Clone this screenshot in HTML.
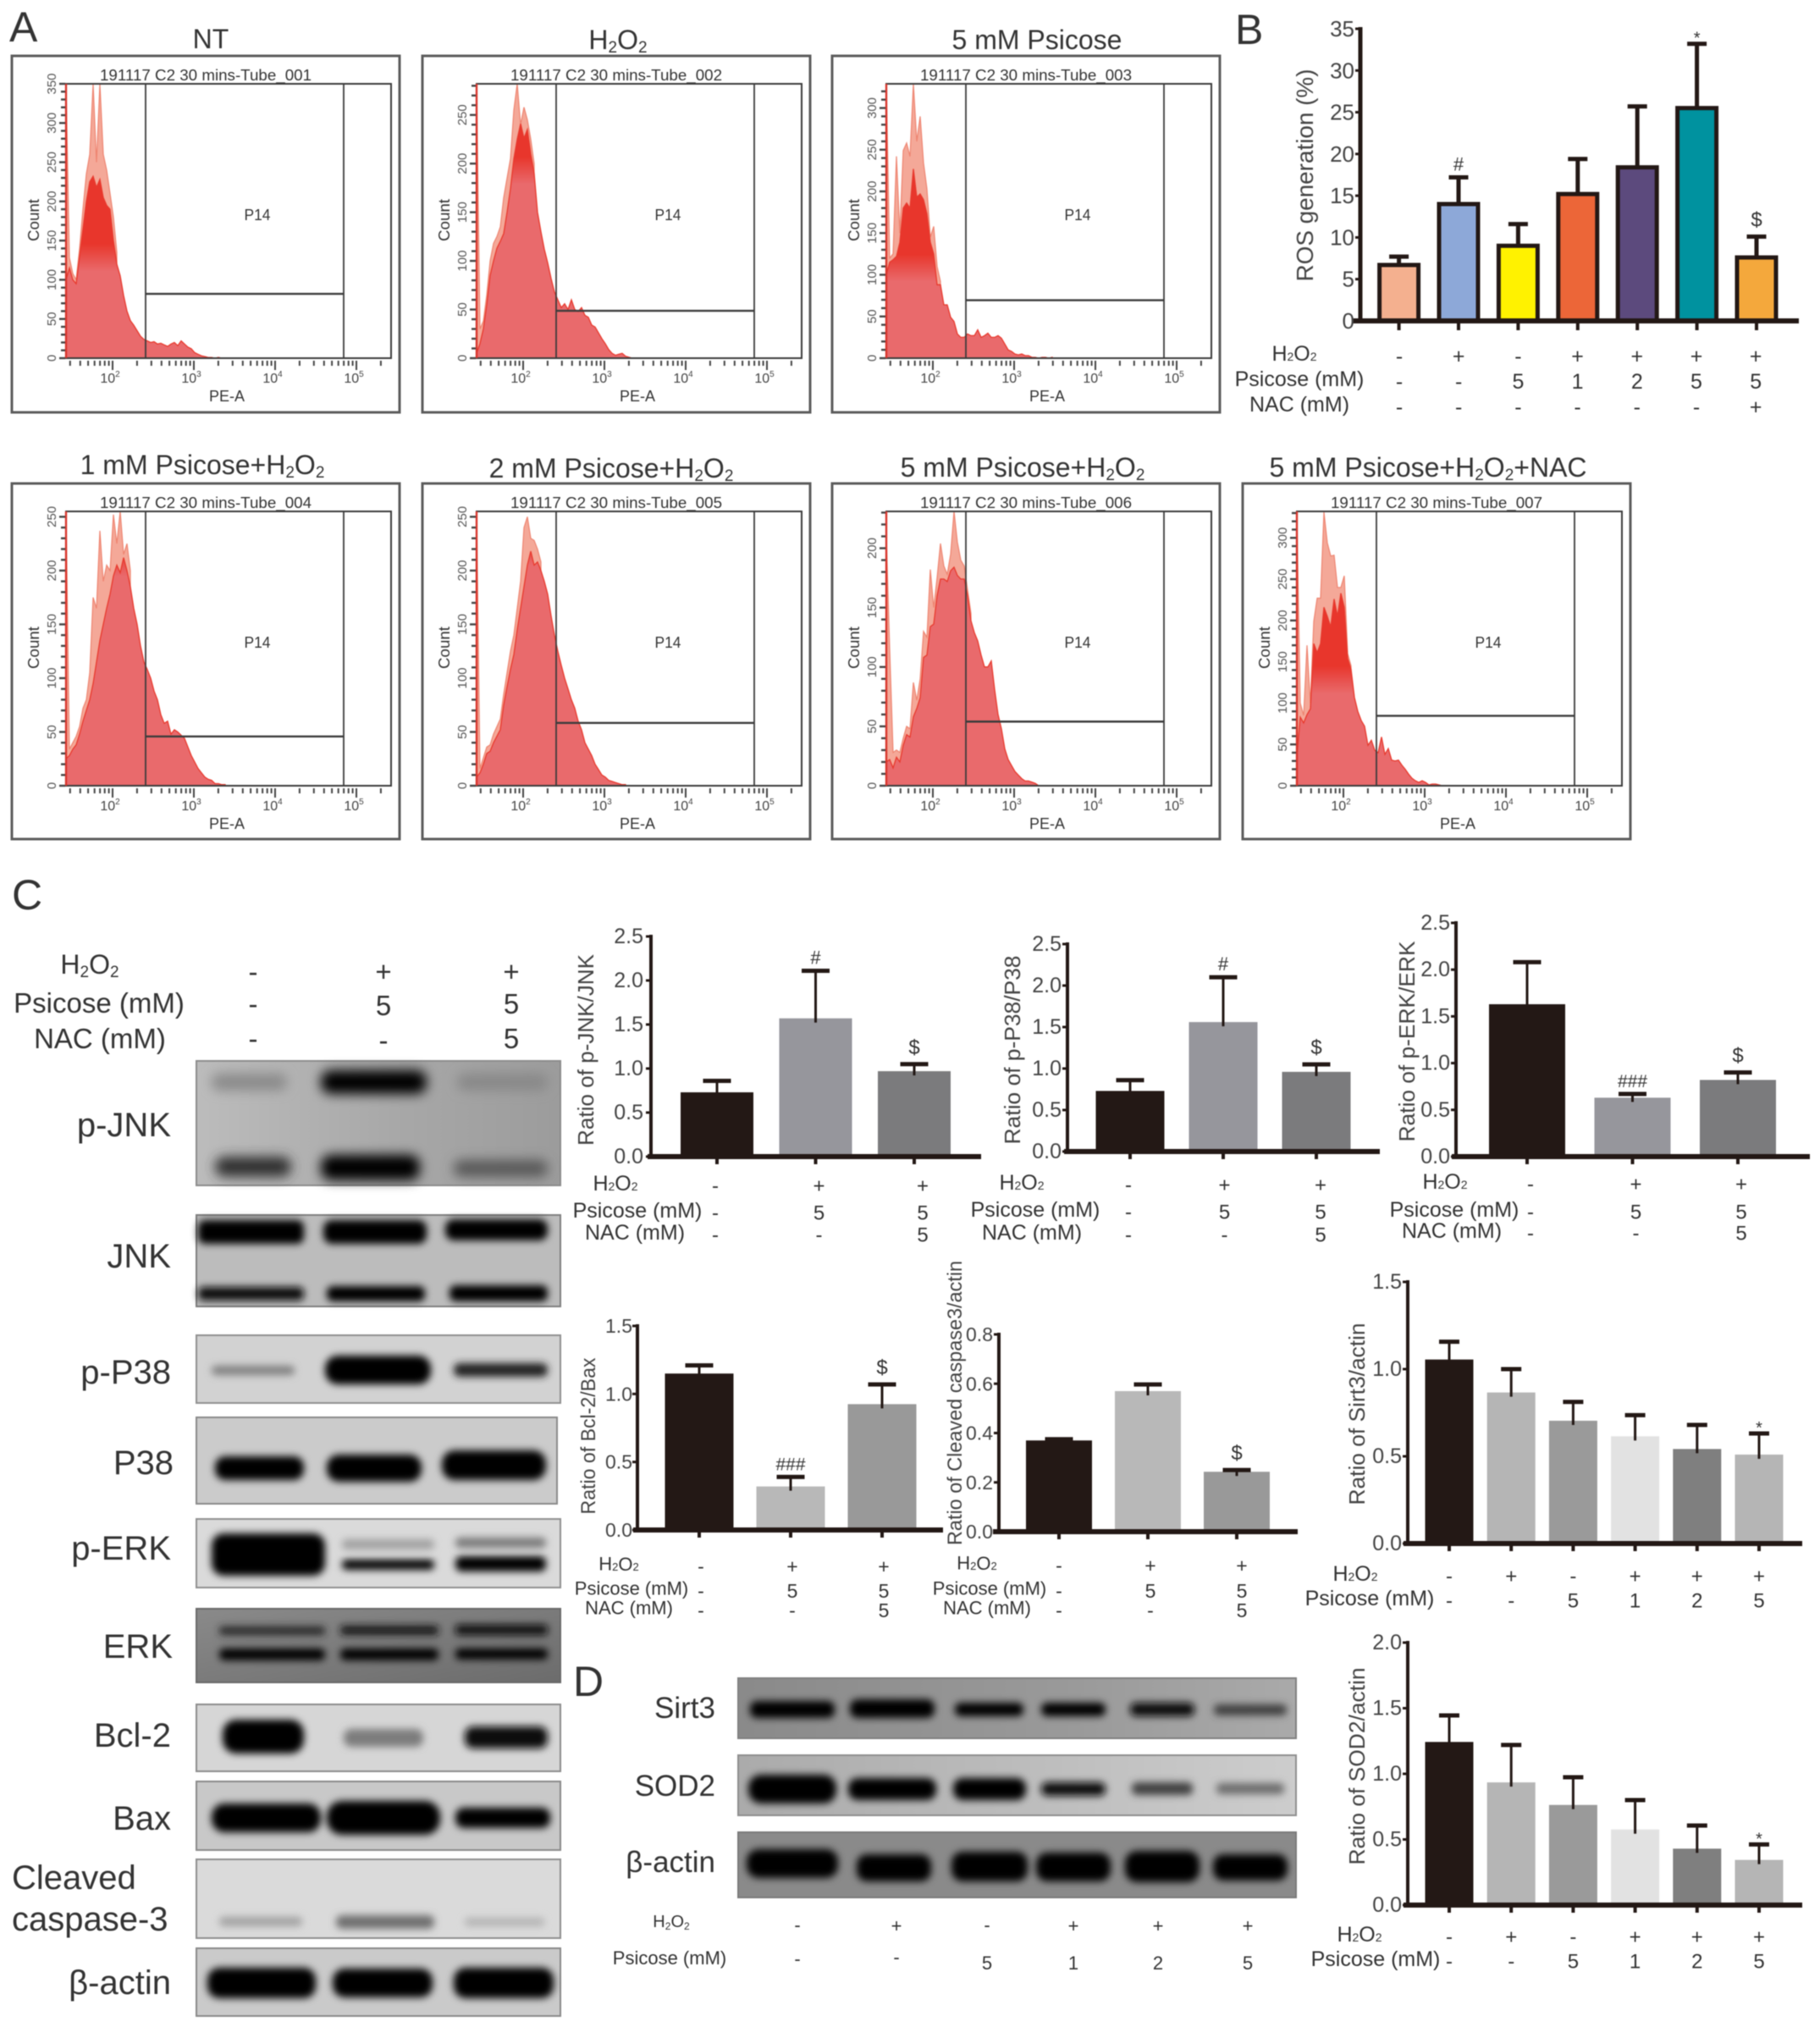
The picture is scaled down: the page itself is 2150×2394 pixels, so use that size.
<!DOCTYPE html>
<html lang="en">
<head>
<meta charset="utf-8">
<title>Psicose ROS flow cytometry and western blot figure</title>
<style>
html,body{margin:0;padding:0;background:#fff}
svg{display:block;filter:blur(0.6px)}
text{font-family:"Liberation Sans",sans-serif;fill:#333}
</style>
</head>
<body>
<svg id="figure" xmlns="http://www.w3.org/2000/svg" width="2150" height="2394" viewBox="0 0 2150 2394">
<defs id="defs">
<filter id="bandBlur" filterUnits="userSpaceOnUse" x="0" y="0" width="2150" height="2394"><feGaussianBlur stdDeviation="4.5"/></filter>
<filter id="softBlur" filterUnits="userSpaceOnUse" x="0" y="0" width="2150" height="2394"><feGaussianBlur stdDeviation="7"/></filter>
<linearGradient id="pJnkBg" x1="0" y1="0" x2="1" y2="0"><stop offset="0" stop-color="#bcbcbc"/><stop offset="0.55" stop-color="#a8a8a8"/><stop offset="1" stop-color="#9c9c9c"/></linearGradient>
<linearGradient id="erkBg" x1="0" y1="0" x2="1" y2="1"><stop offset="0" stop-color="#8a8a8a"/><stop offset="0.6" stop-color="#787878"/><stop offset="1" stop-color="#6c6c6c"/></linearGradient>
<linearGradient id="sirtBg" x1="0" y1="0" x2="1" y2="0"><stop offset="0" stop-color="#8a8a8a"/><stop offset="0.6" stop-color="#9a9a9a"/><stop offset="1" stop-color="#aaa"/></linearGradient>
<linearGradient id="sodBg" x1="0" y1="0" x2="1" y2="0"><stop offset="0" stop-color="#ababab"/><stop offset="1" stop-color="#cdcdcd"/></linearGradient>
</defs>
<rect x="0" y="0" width="2150" height="2394" fill="#fff"/>

<text x="11" y="49" font-size="50">A</text>
<text x="1459" y="52" font-size="50">B</text>
<text x="14" y="1074" font-size="50">C</text>
<text x="677" y="2003" font-size="50">D</text>

<!-- Panel C treatment header -->
<text x="106" y="1150" font-size="32" text-anchor="middle">H<tspan font-size="19" dy="4">2</tspan><tspan dy="-4">O</tspan><tspan font-size="19" dy="4">2</tspan></text>
<text x="117" y="1196" font-size="33" text-anchor="middle">Psicose (mM)</text>
<text x="118" y="1238" font-size="33" text-anchor="middle">NAC (mM)</text>
<g font-size="33" text-anchor="middle">
<text x="299" y="1159">-</text><text x="453" y="1159">+</text><text x="604" y="1159">+</text>
<text x="299" y="1197">-</text><text x="453" y="1199">5</text><text x="604" y="1197">5</text>
<text x="299" y="1238">-</text><text x="453" y="1240">-</text><text x="604" y="1238">5</text>
</g>

<!-- Panel C blot labels -->
<g font-size="40" text-anchor="end">
<text x="202" y="1342">p-JNK</text>
<text x="202" y="1497">JNK</text>
<text x="202" y="1634">p-P38</text>
<text x="205" y="1741">P38</text>
<text x="202" y="1842">p-ERK</text>
<text x="204" y="1958">ERK</text>
<text x="202" y="2063">Bcl-2</text>
<text x="202" y="2161">Bax</text>
<text x="202" y="2355">β-actin</text>
</g>
<text x="14" y="2231" font-size="40">Cleaved</text>
<text x="14" y="2280" font-size="40">caspase-3</text>

<!-- Panel C blots -->
<g>
<rect x="232" y="1253" width="430" height="147" fill="url(#pJnkBg)" stroke="#8c8c8c" stroke-width="2"/>
<g filter="url(#softBlur)">
<rect x="250" y="1268" width="89" height="20" rx="9" fill="#8a8a8a"/>
<rect x="379" y="1264" width="125" height="28" rx="12" fill="#000"/>
<rect x="540" y="1268" width="107" height="20" rx="9" fill="#888"/>
<rect x="254" y="1366" width="90" height="24" rx="11" fill="#333"/>
<rect x="379" y="1364" width="117" height="30" rx="12" fill="#000"/>
<rect x="536" y="1370" width="111" height="20" rx="9" fill="#585858"/>
</g></g>
<g>
<rect x="232" y="1435" width="430" height="108" fill="#bcbcbc" stroke="#808080" stroke-width="2"/>
<g filter="url(#bandBlur)">
<rect x="234" y="1441" width="125" height="28" rx="8" fill="#000"/>
<rect x="382" y="1441" width="122" height="28" rx="10" fill="#000"/>
<rect x="526" y="1440" width="121" height="25" rx="10" fill="#000"/>
<rect x="234" y="1520" width="125" height="16" rx="6" fill="#111"/>
<rect x="386" y="1519" width="116" height="18" rx="7" fill="#050505"/>
<rect x="531" y="1518" width="116" height="19" rx="7" fill="#000"/>
</g></g>
<g>
<rect x="232" y="1577" width="430" height="80" fill="#d2d2d2" stroke="#909090" stroke-width="2"/>
<g filter="url(#bandBlur)">
<rect x="250" y="1613" width="98" height="11" rx="5" fill="#808080"/>
<rect x="384" y="1601" width="125" height="34" rx="15" fill="#000"/>
<rect x="536" y="1610" width="111" height="16" rx="7" fill="#222"/>
</g></g>
<g>
<rect x="232" y="1674" width="426" height="102" fill="#cbcbcb" stroke="#8a8a8a" stroke-width="2"/>
<g filter="url(#bandBlur)">
<rect x="254" y="1720" width="105" height="28" rx="12" fill="#000"/>
<rect x="386" y="1718" width="112" height="32" rx="14" fill="#000"/>
<rect x="522" y="1713" width="123" height="35" rx="15" fill="#000"/>
</g></g>
<g>
<rect x="232" y="1794" width="430" height="81" fill="#dadada" stroke="#909090" stroke-width="2"/>
<g filter="url(#bandBlur)">
<rect x="250" y="1811" width="134" height="50" rx="14" fill="#000"/>
<rect x="404" y="1818" width="109" height="12" rx="5" fill="#a0a0a0"/>
<rect x="404" y="1842" width="109" height="12" rx="5" fill="#000"/>
<rect x="538" y="1816" width="107" height="12" rx="5" fill="#787878"/>
<rect x="538" y="1838" width="107" height="18" rx="7" fill="#000"/>
</g></g>
<g>
<rect x="232" y="1900" width="430" height="87" fill="url(#erkBg)" stroke="#6a6a6a" stroke-width="2"/>
<g filter="url(#bandBlur)">
<rect x="259" y="1921" width="125" height="10" rx="4" fill="#262626"/>
<rect x="402" y="1920" width="116" height="11" rx="4" fill="#141414"/>
<rect x="538" y="1919" width="109" height="12" rx="4" fill="#0c0c0c"/>
<rect x="259" y="1947" width="125" height="14" rx="6" fill="#050505"/>
<rect x="402" y="1947" width="116" height="14" rx="6" fill="#000"/>
<rect x="538" y="1947" width="109" height="13" rx="5" fill="#000"/>
</g></g>
<g>
<rect x="232" y="2013" width="430" height="79" fill="#d6d6d6" stroke="#8c8c8c" stroke-width="2"/>
<g filter="url(#bandBlur)">
<rect x="263" y="2031" width="96" height="40" rx="16" fill="#000"/>
<rect x="406" y="2042" width="94" height="21" rx="9" fill="#7c7c7c"/>
<rect x="549" y="2039" width="98" height="26" rx="10" fill="#0a0a0a"/>
</g></g>
<g>
<rect x="232" y="2104" width="430" height="81" fill="#c8c8c8" stroke="#8a8a8a" stroke-width="2"/>
<g filter="url(#bandBlur)">
<rect x="250" y="2130" width="129" height="34" rx="15" fill="#000"/>
<rect x="386" y="2127" width="134" height="40" rx="18" fill="#000"/>
<rect x="538" y="2135" width="112" height="24" rx="10" fill="#000"/>
</g></g>
<g>
<rect x="232" y="2196" width="430" height="93" fill="#dadada" stroke="#8e8e8e" stroke-width="2"/>
<g filter="url(#bandBlur)">
<rect x="259" y="2264" width="98" height="11" rx="5" fill="#a2a2a2"/>
<rect x="397" y="2262" width="116" height="16" rx="7" fill="#707070"/>
<rect x="549" y="2265" width="94" height="10" rx="4" fill="#b4b4b4"/>
</g></g>
<g>
<rect x="232" y="2301" width="430" height="80" fill="#cacaca" stroke="#8a8a8a" stroke-width="2"/>
<g filter="url(#bandBlur)">
<rect x="245" y="2324" width="128" height="36" rx="14" fill="#000"/>
<rect x="393" y="2325" width="118" height="34" rx="14" fill="#000"/>
<rect x="536" y="2324" width="118" height="36" rx="14" fill="#000"/>
</g></g>

<!-- Panel D blots -->
<g font-size="35" text-anchor="end">
<text x="845" y="2029">Sirt3</text>
<text x="845" y="2121">SOD2</text>
<text x="845" y="2211">β-actin</text>
</g>
<g>
<rect x="872" y="1982" width="659" height="71" fill="url(#sirtBg)" stroke="#808080" stroke-width="2"/>
<g filter="url(#bandBlur)">
<rect x="886" y="2009" width="100" height="20" rx="8" fill="#000"/>
<rect x="1004" y="2007" width="100" height="22" rx="9" fill="#000"/>
<rect x="1128" y="2011" width="81" height="16" rx="7" fill="#050505"/>
<rect x="1230" y="2011" width="76" height="16" rx="7" fill="#050505"/>
<rect x="1335" y="2011" width="76" height="16" rx="7" fill="#080808"/>
<rect x="1434" y="2013" width="86" height="13" rx="5" fill="#404040"/>
</g></g>
<g>
<rect x="872" y="2073" width="659" height="71" fill="url(#sodBg)" stroke="#8e8e8e" stroke-width="2"/>
<g filter="url(#bandBlur)">
<rect x="884" y="2096" width="104" height="34" rx="15" fill="#000"/>
<rect x="1002" y="2100" width="104" height="26" rx="11" fill="#000"/>
<rect x="1126" y="2100" width="86" height="26" rx="11" fill="#000"/>
<rect x="1230" y="2105" width="76" height="16" rx="7" fill="#0a0a0a"/>
<rect x="1337" y="2105" width="72" height="15" rx="6" fill="#404040"/>
<rect x="1437" y="2106" width="80" height="13" rx="5" fill="#6c6c6c"/>
</g></g>
<g>
<rect x="872" y="2164" width="659" height="77" fill="#8a8a8a" stroke="#7a7a7a" stroke-width="2"/>
<g filter="url(#bandBlur)">
<rect x="882" y="2184" width="108" height="34" rx="14" fill="#000"/>
<rect x="1012" y="2190" width="88" height="32" rx="12" fill="#000"/>
<rect x="1124" y="2187" width="90" height="35" rx="13" fill="#000"/>
<rect x="1224" y="2188" width="88" height="34" rx="13" fill="#000"/>
<rect x="1329" y="2186" width="88" height="37" rx="14" fill="#000"/>
<rect x="1433" y="2190" width="88" height="31" rx="12" fill="#000"/>
</g></g>
<g text-anchor="middle">
<text x="793" y="2276" font-size="20">H<tspan font-size="12" dy="3">2</tspan><tspan dy="-3">O</tspan><tspan font-size="12" dy="3">2</tspan></text>
<text x="791" y="2320" font-size="22">Psicose (mM)</text>
<g font-size="22">
<text x="942" y="2281">-</text><text x="1059" y="2282">+</text><text x="1166" y="2281">-</text><text x="1268" y="2282">+</text><text x="1368" y="2282">+</text><text x="1474" y="2282">+</text>
<text x="942" y="2321">-</text><text x="1059" y="2319">-</text><text x="1166" y="2326">5</text><text x="1268" y="2326">1</text><text x="1368" y="2326">2</text><text x="1474" y="2326">5</text>
</g></g>

<g id="flowLayer"></g>
<g id="chartLayer"></g>
</svg>

<script>
// ---------- Flow cytometry histogram data (counts per bin) ----------
const ntCounts=[100,115,100,95,130,165,200,225,232,218,228,205,195,190,150,120,105,80,60,48,42,35,28,24,22,20,21,18,19,17,15,18,20,16,22,18,14,12,7,5,3,2,1,1,0,1,0];
const ntSpikes=[350,128,108,100,140,190,235,260,350,250,350,260,240,210,180,135];
const h2o2Counts=[5,15,30,55,85,100,113,120,128,150,174,205,225,241,226,235,210,190,150,130,112,98,82,68,60,52,56,50,60,50,48,52,44,42,34,32,26,20,15,9,5,3,4,5,2,1,0];
const h2o2Spikes=[282,30,38,65,100,118,125,135,165,185,205,255,282,240,258,245,225,200];
const psicoseCounts=[100,115,118,122,139,180,186,180,227,193,197,190,173,139,125,88,88,64,64,49,44,29,25,25,29,27,27,34,25,27,30,25,25,27,24,17,10,8,5,4,5,3,3,1,1,0,1,1,0,1];
const psicoseSpikes=[329,120,125,242,150,249,258,242,329,260,290,234,203,145,158,110,92];
const psicose1Counts=[25,28,34,38,48,60,70,80,95,115,135,150,165,178,195,205,198,212,200,185,165,150,130,115,108,100,88,80,66,58,60,48,52,50,47,44,36,28,22,16,12,8,6,5,2,2,1,1];
const psicose1Spikes=[255,34,40,46,55,72,80,105,175,165,237,190,205,200,252,225,255,215,225,200];
const psicose2Counts=[8,12,20,30,32,40,46,52,75,92,108,122,145,165,185,205,218,205,208,200,190,178,158,140,125,112,100,90,80,72,60,52,40,34,28,20,15,10,8,5,4,3,2,1,1];
const psicose2Spikes=[255,16,26,36,38,48,55,62,85,105,125,140,165,190,240,250,230,228,220,208];
const psicose5Counts=[20,22,15,24,20,34,43,41,58,65,74,108,110,134,136,160,174,174,172,181,184,177,174,174,160,139,129,122,110,100,100,105,81,60,48,31,22,17,12,9,6,4,4,3,2,0];
const psicose5Spikes=[210,115,28,30,28,40,50,48,87,72,90,130,125,182,150,175,204,185,178,195,231,205,190,185,165,145];
const nacCounts=[35,83,76,86,93,172,161,172,216,205,192,226,205,233,216,154,141,107,90,79,72,49,55,43,40,59,38,45,31,30,31,25,20,14,9,6,4,6,4,1,2,2,1,0];
const nacSpikes=[332,100,85,170,100,199,227,227,331,294,278,279,240,240,254,160,145];
const flowMajorTicks=[50];
const flowDecades=[2,3,4,5];

// ---------- Bar chart data ----------
const rosCategories=['NT','H2O2','5 mM Psicose','1 mM+H2O2','2 mM+H2O2','5 mM+H2O2','5 mM+H2O2+NAC'];
const rosValues=[6.7,14,9,15.2,18.4,25.5,7.6];
const rosErrorTops=[7.7,17.2,11.6,19.4,25.7,33.2,10.1];
const rosTicks=['0','5','10','15','20','25','30','35'];
const rosMarks=['','#','','','','*','$'];
const pJnkValues=[0.73,1.57,0.97];
const pJnkErrorTops=[0.86,2.11,1.05];
const pJnkMarks=['','#','$'];
const pP38Values=[0.73,1.56,0.96];
const pP38ErrorTops=[0.86,2.1,1.05];
const pP38Marks=['','#','$'];
const pErkValues=[1.63,0.63,0.82];
const pErkErrorTops=[2.08,0.67,0.9];
const pErkMarks=['','###','$'];
const ratioTicks=['0.0','0.5','1.0','1.5','2.0','2.5'];
const bclValues=[1.15,0.32,0.925];
const bclErrorTops=[1.21,0.39,1.07];
const bclMarks=['','###','$'];
const bclTicks=['0.0','0.5','1.0','1.5'];
const caspaseValues=[0.37,0.57,0.243];
const caspaseErrorTops=[0.375,0.597,0.25];
const caspaseMarks=['','','$'];
const caspaseTicks=['0.0','0.2','0.4','0.6','0.8'];
const sirt3Values=[1.055,0.866,0.704,0.615,0.542,0.51];
const sirt3ErrorTops=[1.157,1.0,0.812,0.736,0.68,0.631];
const sirt3Marks=['','','','','','*'];
const sirt3Ticks=['0.0','0.5','1.0','1.5'];
const sod2Values=[1.243,0.935,0.763,0.576,0.43,0.344];
const sod2ErrorTops=[1.445,1.22,0.974,0.8,0.606,0.462];
const sod2Marks=['','','','','','*'];
const sod2Ticks=['0.0','0.5','1.0','1.5','2.0'];

// ---------- Treatment rows ----------
const rosH2o2=['-','+','-','+','+','+','+'];
const rosPsicose=['-','-','5','1','2','5','5'];
const rosNac=['-','-','-','-','-','-','+'];
const threeH2o2=['-','+','+'];
const threePsicose=['-','5','5'];
const threeNac=['-','-','5'];
const sixH2o2=['-','+','-','+','+','+'];
const sixPsicose=['-','-','5','1','2','5'];

const NS='http://www.w3.org/2000/svg';
function mk(tag,attrs,parent){
  const el=document.createElementNS(NS,tag);
  for(const k in attrs){el.setAttribute(k,attrs[k]);}
  parent.appendChild(el);
  return el;
}
function label(parent,name,str,x,y,size,opts){
  opts=opts||{};
  const t=mk('text',{x:x,y:y,'font-size':size,'text-anchor':opts.anchor||'middle'},parent);
  
  
  if(opts.central){t.setAttribute('dominant-baseline','central');}
  if(opts.fill){t.setAttribute('style','fill:'+opts.fill);}
  if(opts.rotate){t.setAttribute('transform','rotate(-90 '+x+' '+y+')');}
  if(opts.len){t.setAttribute('textLength',opts.len);t.setAttribute('lengthAdjust','spacingAndGlyphs');}
  const sm=Math.round(size*0.58),dy=Math.round(size*0.13);
  const parts=str.split('H2O2');
  parts.forEach(function(p,i){
    if(p){
      if(i>0){
        const rest=mk('tspan',{dy:-dy},t);
        rest.textContent=p;
      }else{
        t.appendChild(document.createTextNode(p));
      }
    }
    if(i<parts.length-1){
      t.appendChild(document.createTextNode('H'));
      const a=mk('tspan',{'font-size':sm,dy:dy},t);a.textContent='2';
      const b=mk('tspan',{dy:-dy},t);b.textContent='O';
      const c=mk('tspan',{'font-size':sm,dy:dy},t);c.textContent='2';
    }
  });
  return t;
}

// ---------- Flow panels ----------
const flowPanels=[
 {name:'nt',title:'NT',titleX:249,titleY:57,tube:'191117 C2 30 mins-Tube_001',left:14,top:66,counts:ntCounts,spikes:ntSpikes,yMax:350,gate:82,dense:125},
 {name:'h2o2',title:'H2O2',titleX:730,titleY:58,tube:'191117 C2 30 mins-Tube_002',left:499,top:66,counts:h2o2Counts,spikes:h2o2Spikes,yMax:282,gate:48.7,dense:190},
 {name:'psicose-5',title:'5 mM Psicose',titleX:1225,titleY:58,tube:'191117 C2 30 mins-Tube_003',left:983,top:66,counts:psicoseCounts,spikes:psicoseSpikes,yMax:329,gate:69.5,dense:105},
 {name:'psicose-1-h2o2',title:'1 mM Psicose+H2O2',titleX:239,titleY:560,tube:'191117 C2 30 mins-Tube_004',left:14,top:571,counts:psicose1Counts,spikes:psicose1Spikes,yMax:255,gate:45.8,dense:205},
 {name:'psicose-2-h2o2',title:'2 mM Psicose+H2O2',titleX:722,titleY:564,tube:'191117 C2 30 mins-Tube_005',left:499,top:571,counts:psicose2Counts,spikes:psicose2Spikes,yMax:255,gate:58.4,dense:215},
 {name:'psicose-5-h2o2',title:'5 mM Psicose+H2O2',titleX:1208,titleY:563,tube:'191117 C2 30 mins-Tube_006',left:983,top:571,counts:psicose5Counts,spikes:psicose5Spikes,yMax:231,gate:54,dense:400},
 {name:'psicose-5-h2o2-nac',title:'5 mM Psicose+H2O2+NAC',titleX:1687,titleY:563,tube:'191117 C2 30 mins-Tube_007',left:1468,top:571,counts:nacCounts,spikes:nacSpikes,yMax:332,gate:84.6,dense:125}
];
const flowLayer=document.getElementById('flowLayer');
const defs=document.getElementById('defs');
flowPanels.forEach(function(p){
  const g=mk('g',{},flowLayer);
  
  
  const L=p.left+64,R=p.left+448,T=p.top+33,B=p.top+357,binW=4;
  const yScale=function(c){return B-(c/p.yMax)*(B-T);};
  const xBin=function(i){return L+i*binW;};
  const xLog=function(v){return p.left+119+96*(v-2);};

  label(g,'flow-title-'+p.name,p.title,p.titleX,p.titleY,32);
  const box=mk('rect',{x:p.left,y:p.top,width:458,height:p.top===66?421:420,fill:'none',stroke:'#5c5c5c','stroke-width':3},g);
  
  

  const area=function(arr){
    let d='M'+L+' '+B;
    arr.forEach(function(c,i){d+=' L'+xBin(i)+' '+yScale(c).toFixed(1);});
    d+=' L'+xBin(arr.length-1)+' '+B+' Z';
    return d;
  };
  const gid='bodyFill-'+p.name;
  const grad=mk('linearGradient',{id:gid,gradientUnits:'userSpaceOnUse',x1:0,y1:T,x2:0,y2:B},defs);
  const f=Math.max(0,(yScale(p.dense)-T)/(B-T));
  mk('stop',{offset:Math.max(0,f-0.06),'stop-color':f>0?'#e8362c':'#e96a6c'},grad);
  mk('stop',{offset:Math.min(1,f+0.04),'stop-color':'#e96a6c'},grad);

  const spike=mk('path',{d:area(p.spikes),fill:'#f4a898',stroke:'#ee8470','stroke-width':1.2},g);
  
  
  const body=mk('path',{d:area(p.counts),fill:'url(#'+gid+')',stroke:'#e8392d','stroke-width':1.3},g);
  
  

  const frame=mk('rect',{x:L,y:T,width:R-L,height:B-T,fill:'none',stroke:'#3c3c3c','stroke-width':2},g);
  
  
  const redEdge=mk('line',{x1:L,y1:T,x2:L,y2:B,stroke:'#d8352c','stroke-width':2.4},g);
  
  

  const gateX1=p.left+158,gateX2=p.left+392,gy=yScale(p.gate);
  [[gateX1,T,gateX1,B],[gateX2,T,gateX2,B],[gateX1,gy,gateX2,gy]].forEach(function(c,i){
    const ln=mk('line',{x1:c[0],y1:c[1],x2:c[2],y2:c[3],stroke:'#3c3c3c','stroke-width':i===2?2.4:1.8},g);
    
    
  });

  label(g,'tube-title',p.tube,p.left+229,T-4,18,{len:250});
  label(g,'gate-label',"P14",p.left+290,p.top+188,18,{central:true,len:31});
  label(g,'flow-x-title',"PE-A",p.left+254,p.top+408,18,{len:42});
  label(g,'flow-y-title',"Count",p.left+32,p.top+194,18,{rotate:true,len:50});

  for(let c=0;c<=p.yMax;c+=10){
    const major=c%flowMajorTicks[0]===0;
    const tk=mk('line',{x1:L-(major?8:6),y1:yScale(c),x2:L-1,y2:yScale(c),stroke:'#444','stroke-width':2.4},g);
    
    
    if(major){
      label(g,'flow-y-tick-label',String(c),p.left+52,yScale(c),15,{rotate:true,fill:'#555'});
    }
  }
  for(let d=1;d<=5;d++){
    for(let k=1;k<=9;k++){
      const v=d+Math.log10(k),x=xLog(v);
      if(x<L||x>R){continue;}
      const tk=mk('line',{x1:x,y1:B+3,x2:x,y2:B+(k===1?14:9),stroke:'#444','stroke-width':2},g);
      
      
    }
  }
  flowDecades.forEach(function(d){
    const t=label(g,'flow-x-tick-label','10',xLog(d)-3,p.top+386,16,{fill:'#444'});
    const s=mk('tspan',{'font-size':10,dy:-7},t);
    s.textContent=String(d);
  });
});

// ---------- Bar charts ----------
const darkFill='#231815';
const charts=[
 {name:'ros-generation',title:'ROS generation (%)',values:rosValues,errors:rosErrorTops,ticks:rosTicks,marks:rosMarks,
  fills:['#f4b08f','#8da8d8','#fff200','#ec6638','#5c4a7d','#00929f','#f4a83c'],outlined:true,
  axisX:1607,xEnd:2125,xStart:1598,y0:379,yTop:34,dMax:35,first:1652.6,step:70.4,barW:46,capW:23,capH:5,stemW:5,
  tickSize:26,tickX:1600,titleX:1551,titleY:207,titleSize:28,titleLen:251,
  rowSize:25,colSize:25,colFirst:1653,colStep:70.2,
  rows:[{text:'H2O2',x:1529,y:418,cells:rosH2o2},{text:'Psicose (mM)',x:1535,y:448,cells:rosPsicose},{text:'NAC (mM)',x:1535,y:478,cells:rosNac}]},
 {name:'p-jnk-ratio',title:'Ratio of p-JNK/JNK',values:pJnkValues,errors:pJnkErrorTops,ticks:ratioTicks,marks:pJnkMarks,
  fills:[darkFill,'#96969c','#7b7b7d'],
  axisX:769,xEnd:1159,xStart:765,y0:1366,yTop:1106,dMax:2.5,first:847,step:116.5,barW:86,capW:33,capH:5,stemW:3,
  tickSize:25,tickX:760,titleX:701,titleY:1240,titleSize:26,titleLen:226,
  rowSize:25,colSize:24,colFirst:845,colStep:122.5,
  rows:[{text:'H2O2',x:727,y:1398,cells:threeH2o2},{text:'Psicose (mM)',x:753,y:1430,cells:threePsicose},{text:'NAC (mM)',x:750,y:1456,cells:threeNac}]},
 {name:'p-p38-ratio',title:'Ratio of p-P38/P38',values:pP38Values,errors:pP38ErrorTops,ticks:ratioTicks,marks:pP38Marks,
  fills:[darkFill,'#96969c','#7b7b7d'],
  axisX:1261,xEnd:1630,xStart:1257,y0:1360,yTop:1115,dMax:2.5,first:1335,step:110,barW:81,capW:33,capH:5,stemW:3,
  tickSize:25,tickX:1254,titleX:1205,titleY:1240,titleSize:26,titleLen:223,
  rowSize:25,colSize:24,colFirst:1333,colStep:113.5,
  rows:[{text:'H2O2',x:1207,y:1397,cells:threeH2o2},{text:'Psicose (mM)',x:1223,y:1429,cells:threePsicose},{text:'NAC (mM)',x:1219,y:1456,cells:threeNac}]},
 {name:'p-erk-ratio',title:'Ratio of p-ERK/ERK',values:pErkValues,errors:pErkErrorTops,ticks:ratioTicks,marks:pErkMarks,
  fills:[darkFill,'#96969c','#7b7b7d'],
  axisX:1720,xEnd:2138,xStart:1715,y0:1366,yTop:1090,dMax:2.5,first:1804,step:124.5,barW:90,capW:33,capH:5,stemW:3,
  tickSize:25,tickX:1713,titleX:1671,titleY:1230,titleSize:26,titleLen:237,
  rowSize:25,colSize:24,colFirst:1808,colStep:124.5,
  rows:[{text:'H2O2',x:1707,y:1396,cells:threeH2o2},{text:'Psicose (mM)',x:1718,y:1429,cells:threePsicose},{text:'NAC (mM)',x:1715,y:1454,cells:threeNac}]},
 {name:'bcl-2-bax-ratio',title:'Ratio of Bcl-2/Bax',values:bclValues,errors:bclErrorTops,ticks:bclTicks,marks:bclMarks,
  fills:[darkFill,'#b8b8b8','#999'],
  axisX:753,xEnd:1114,xStart:748,y0:1807,yTop:1566,dMax:1.5,first:826,step:108,barW:81,capW:33,capH:5,stemW:3,
  tickSize:23,tickX:747,titleX:703,titleY:1696,titleSize:24,titleLen:185,
  rowSize:22,colSize:23,colFirst:828,colStep:108,
  rows:[{text:'H2O2',x:731,y:1847,cells:threeH2o2},{text:'Psicose (mM)',x:746,y:1876,cells:threePsicose},{text:'NAC (mM)',x:743,y:1899,cells:threeNac}]},
 {name:'cleaved-caspase-3-ratio',title:'Ratio of Cleaved caspase3/actin',values:caspaseValues,errors:caspaseErrorTops,ticks:caspaseTicks,marks:caspaseMarks,
  fills:[darkFill,'#b8b8b8','#999'],
  axisX:1180,xEnd:1533,xStart:1173,y0:1809,yTop:1576,dMax:0.8,first:1251,step:105,barW:78,capW:33,capH:5,stemW:3,
  tickSize:23,tickX:1173,titleX:1136,titleY:1657,titleSize:24,titleLen:336,
  rowSize:22,colSize:23,colFirst:1251,colStep:108,
  rows:[{text:'H2O2',x:1154,y:1846,cells:threeH2o2},{text:'Psicose (mM)',x:1169,y:1876,cells:threePsicose},{text:'NAC (mM)',x:1166,y:1899,cells:threeNac}]},
 {name:'sirt3-ratio',title:'Ratio of Sirt3/actin',values:sirt3Values,errors:sirt3ErrorTops,ticks:sirt3Ticks,marks:sirt3Marks,
  fills:[darkFill,'#b5b5b5','#9a9a9a','#e2e2e2','#7f7f7f','#b5b5b5'],
  axisX:1663,xEnd:2129,xStart:1658,y0:1823,yTop:1514,dMax:1.5,first:1712,step:73.2,barW:57,capW:24,capH:5,stemW:3,
  tickSize:25,tickX:1656,titleX:1612,titleY:1670,titleSize:26,titleLen:215,
  rowSize:25,colSize:24,colFirst:1712,colStep:73.2,
  rows:[{text:'H2O2',x:1601,y:1859,cells:sixH2o2},{text:'Psicose (mM)',x:1618,y:1888,cells:sixPsicose}]},
 {name:'sod2-ratio',title:'Ratio of SOD2/actin',values:sod2Values,errors:sod2ErrorTops,ticks:sod2Ticks,marks:sod2Marks,
  fills:[darkFill,'#b5b5b5','#9a9a9a','#e2e2e2','#7f7f7f','#b5b5b5'],
  axisX:1663,xEnd:2129,xStart:1658,y0:2250,yTop:1940,dMax:2,first:1712,step:73.2,barW:57,capW:24,capH:5,stemW:3,
  tickSize:25,tickX:1656,titleX:1612,titleY:2086,titleSize:26,titleLen:233,
  rowSize:25,colSize:24,colFirst:1712,colStep:73.2,
  rows:[{text:'H2O2',x:1606,y:2285,cells:sixH2o2},{text:'Psicose (mM)',x:1625,y:2314,cells:sixPsicose}]}
];
const chartLayer=document.getElementById('chartLayer');
charts.forEach(function(c){
  const g=mk('g',{},chartLayer);
  
  
  const yScale=function(v){return c.y0-(v/c.dMax)*(c.y0-c.yTop);};
  const xBand=function(i){return c.first+c.step*i;};

  c.values.forEach(function(v,i){
    const cx=xBand(i),top=yScale(v),errY=yScale(c.errors[i]);
    const bar=mk('rect',{x:cx-c.barW/2,y:top,width:c.barW,height:c.y0-top,fill:c.fills[i]},g);
    
    
    if(c.outlined){
      bar.setAttribute('stroke',darkFill);
      bar.setAttribute('stroke-width','5');
    }
    const stem=mk('line',{x1:cx,y1:c.outlined?top:top+5,x2:cx,y2:errY,stroke:darkFill,'stroke-width':c.stemW},g);
    
    
    const cap=mk('rect',{x:cx-c.capW/2,y:errY-c.capH/2,width:c.capW,height:c.capH,fill:darkFill},g);
    
    
    const tk=mk('rect',{x:cx-2,y:c.y0,width:4,height:c.outlined?11:9,fill:darkFill},g);
    
    
    const m=c.marks[i];
    if(m){
      const size=m==='$'?24:(m==='*'?20:(m==='#'?22:21));
      const off=m==='$'?12:(m==='*'?0:8);
      label(g,'significance-mark',m,cx,errY-off,size);
    }
  });

  const yAxis=mk('line',{x1:c.axisX,y1:c.yTop-2,x2:c.axisX,y2:c.y0,stroke:darkFill,'stroke-width':c.outlined?5:4},g);
  
  
  const xAxis=mk('line',{x1:c.xStart,y1:c.y0,x2:c.xEnd,y2:c.y0,stroke:darkFill,'stroke-width':6},g);
  
  

  c.ticks.forEach(function(t){
    const y=yScale(parseFloat(t));
    const tk=mk('line',{x1:c.axisX-6,y1:y,x2:c.axisX,y2:y,stroke:darkFill,'stroke-width':3},g);
    
    
    label(g,'y-tick-label',t,c.tickX,y,c.tickSize,{anchor:'end',central:true,fill:'#444'});
  });
  label(g,'y-axis-title',c.title,c.titleX,c.titleY,c.titleSize,{rotate:true,len:c.titleLen,fill:'#444'});

  c.rows.forEach(function(r){
    label(g,'row-label',r.text,r.x,r.y,c.rowSize,{central:true});
    r.cells.forEach(function(cell,i){
      label(g,'row-value',cell,c.colFirst+c.colStep*i,r.y+3,c.colSize,{central:true});
    });
  });
});
</script>
</body>
</html>
